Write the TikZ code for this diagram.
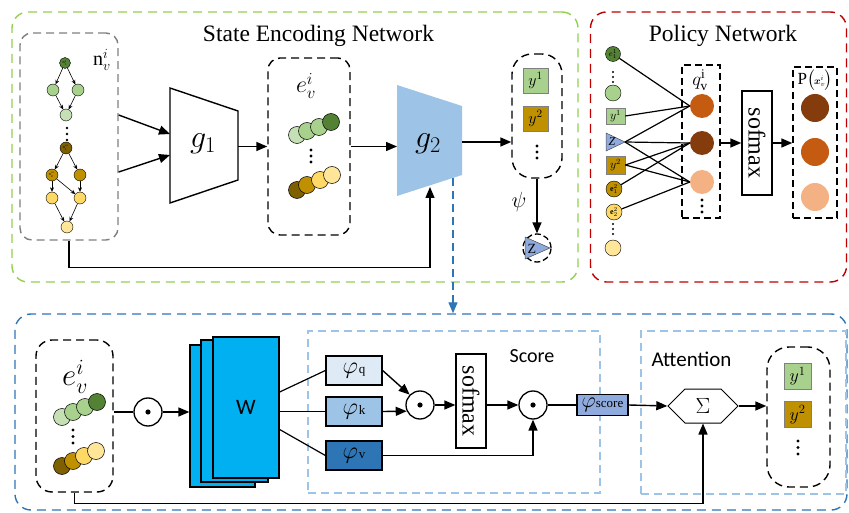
\RequirePackage{fix-cm}
\documentclass[tikz,border=0pt]{standalone}
\usepackage{amsmath}
\usepackage{fontspec}
\setmainfont{Liberation Serif}
\newfontfamily\carlito{Carlito}
\usetikzlibrary{arrows.meta,shapes.geometric,shapes.symbols,calc}

\definecolor{cGreenBox}{HTML}{92D050}
\definecolor{cRedBox}{HTML}{C00000}
\definecolor{cBlueBox}{HTML}{2E75B6}
\definecolor{cLBlue}{HTML}{9DC3E6}
\definecolor{cGray}{HTML}{7F7F7F}
\definecolor{cGa}{HTML}{C5E0B4}
\definecolor{cGb}{HTML}{A9D18E}
\definecolor{cGc}{HTML}{548235}
\definecolor{cBa}{HTML}{7F6000}
\definecolor{cBb}{HTML}{BF9000}
\definecolor{cYa}{HTML}{FFD966}
\definecolor{cYb}{HTML}{FFE699}
\definecolor{cZ}{HTML}{8FAADC}
\definecolor{cOr}{HTML}{C55A11}
\definecolor{cBr}{HTML}{843C0C}
\definecolor{cPe}{HTML}{F4B183}
\definecolor{cW}{HTML}{00B0F0}
\definecolor{cPq}{HTML}{DEEBF7}
\definecolor{cPv}{HTML}{2E75B6}

\begin{document}
\begin{tikzpicture}[x=1pt,y=-1pt,
  arr/.style={-{Triangle[length=11pt,width=9pt]},line width=1.4pt},
  sarr/.style={-{Stealth[length=4.5pt,width=4pt]},line width=0.6pt},
  bigbox/.style={draw,dash pattern=on 9pt off 6pt,line width=1.4pt,rounded corners=16pt,inner sep=0pt},
  dbox/.style={draw,dash pattern=on 8pt off 5pt,line width=1.4pt,rounded corners=12pt,inner sep=0pt},
  lbbox/.style={draw=cLBlue,dash pattern=on 8pt off 5pt,line width=1.2pt,inner sep=0pt},
  gn/.style={circle,draw,line width=0.4pt,inner sep=0pt,minimum size=12pt,font=\fontsize{4.2}{4.5}\selectfont},
  emb/.style={circle,draw,line width=0.5pt,inner sep=0pt,minimum size=17pt},
  ybx/.style={draw=gray,line width=0.6pt,minimum width=25pt,minimum height=25pt,inner sep=0pt,font=\fontsize{16}{16}\selectfont},
  odot/.style={circle,draw,line width=1.3pt,minimum size=28pt,inner sep=0pt},
  phibox/.style={draw,line width=1.3pt,minimum width=56pt,minimum height=29pt,inner sep=0pt},
  pline/.style={line width=1.2pt},
  pcirc/.style={circle,draw,line width=0.4pt,inner sep=0pt,minimum size=16pt,font=\fontsize{8}{8}\selectfont},
  qcirc/.style={circle,inner sep=0pt,minimum size=24pt},
  titl/.style={font=\fontsize{23.5}{24}\selectfont}
]
\useasboundingbox (0,0) rectangle (849,513);

% ---------- big frames ----------
\node[bigbox,draw=cGreenBox,minimum width=566pt,minimum height=270pt] (senc) at (295,147) {};
\node[bigbox,draw=cRedBox,minimum width=256pt,minimum height=270pt] (pol) at (718.5,147) {};
\node[bigbox,draw=cBlueBox,minimum width=832pt,minimum height=196pt] (att) at (431,412) {};
\node[titl] (t1) at (318.5,36) {State Encoding Network};
\node[titl] (t2) at (723,36) {Policy Network};

% ---------- n box with graph ----------
\node[dbox,draw=cGray,minimum width=98pt,minimum height=207pt] (nbox) at (69,136.5) {};
\node[font=\fontsize{20}{20}\selectfont] (nlab) at (102,60) {$\mathrm{n}_v^i$};
\node[gn,fill=cGc,minimum size=11pt] (a1) at (65,63) {$\mathrm{n}_1^1$};
\node[gn,fill=cGb] (a2) at (53,90) {};
\node[gn,fill=cGb] (a3) at (78,90) {};
\node[gn,fill=cGa] (a4) at (66,115) {};
\foreach \yy in {128,134,140} \fill (67,\yy) circle (1.4pt);
\node[gn,fill=cBa] (b1) at (66,148) {$\mathrm{n}_1^m$};
\node[gn,fill=cBb] (b2) at (52,175) {$\mathrm{n}_2^m$};
\node[gn,fill=cBb] (b3) at (80,175) {};
\node[gn,fill=cYa] (b4) at (52,198) {};
\node[gn,fill=cYa] (b5) at (80,198) {};
\node[gn,fill=cYb] (b6) at (67,227) {};
\draw[sarr] (a1) -- (a2); \draw[sarr] (a1) -- (a3);
\draw[sarr] (a2) -- (a4); \draw[sarr] (a3) -- (a4);
\draw[sarr] (b1) -- (b2); \draw[sarr] (b1) -- (b3);
\draw[sarr] (b2) -- (b4); \draw[sarr] (b2) -- (b5); \draw[sarr] (b3) -- (b5);
\draw[sarr] (b4) -- (b6); \draw[sarr] (b5) -- (b6);

% ---------- g1 ----------
\draw[line width=1.4pt,fill=white] (170,88) -- (238,111) -- (238,180) -- (170,203) -- cycle;
\node[font=\fontsize{32}{32}\selectfont] (g1) at (203,144) {$g_1$};
\coordinate (g1i1) at (170,134);
\coordinate (g1i2) at (170,155);
\coordinate (g1o) at (238,146.5);
\draw[arr] ([yshift=21.5pt]nbox.east) -- (g1i1);
\draw[arr] ([yshift=-35.5pt]nbox.east) -- (g1i2);

% ---------- e box ----------
\node[dbox,minimum width=82pt,minimum height=177pt] (ebox) at (309,146.5) {};
\node[font=\fontsize{24}{24}\selectfont] (elab) at (306,86) {$e_v^i$};
\node[emb,fill=cGa] (e1) at (297,135) {};
\node[emb,fill=cGb] (e2) at (307,131) {};
\node[emb,fill=cGb] (e3) at (319,127) {};
\node[emb,fill=cGc] (e4) at (331,122) {};
\foreach \yy in {150,156,162} \fill (311,\yy) circle (1.6pt);
\node[emb,fill=cBa] (e5) at (297,190) {};
\node[emb,fill=cBb] (e6) at (307,185) {};
\node[emb,fill=cYa] (e7) at (320,180) {};
\node[emb,fill=cYb] (e8) at (332,175) {};
\draw[arr] (g1o) -- (ebox.west);

% ---------- g2 ----------
\fill[cLBlue] (397,85) -- (462,106) -- (462,175) -- (397,196) -- cycle;
\node[font=\fontsize{32}{32}\selectfont] (g2) at (428,144) {$g_2$};
\coordinate (g2i) at (397,146.5);
\coordinate (g2o) at (462,142);
\coordinate (g2b) at (430,187);
\coordinate (g2d) at (453,178);
\draw[arr] (ebox.east) -- (g2i);
\draw[arr] (nbox.south) -- ++(0,27) -| (g2b);

% ---------- y box and Z ----------
\node[dbox,minimum width=50pt,minimum height=124pt,rounded corners=20pt] (ybox) at (537,116) {};
\node[ybx,fill=cGb] (y1) at (535.5,80.5) {$y^1$};
\node[ybx,fill=cBb] (y2) at (535.5,118.5) {$y^2$};
\foreach \yy in {146,152,158} \fill (537,\yy) circle (1.6pt);
\draw[arr] (g2o) -- (g2o -| ybox.west);
\node[circle,draw,dash pattern=on 6pt off 3pt,line width=1.3pt,minimum size=28pt,inner sep=0pt] (zc) at (537,248) {};
\filldraw[fill=cZ,draw=black!70,line width=0.5pt] (525,237) -- (550,248) -- (525,259) -- cycle;
\node[font=\fontsize{14}{14}\selectfont] (zl) at (532,249) {Z};
\draw[arr] (ybox.south) -- (ybox.south |- zc.north);
\node[font=\fontsize{22}{22}\selectfont] (psi) at (519,202) {$\psi$};

\draw[cBlueBox,line width=1.2pt,dash pattern=on 8pt off 5pt,-{Triangle[length=11pt,width=9pt]}] (g2d) -- (g2d |- att.north);

% ---------- policy network ----------
\node[draw,dash pattern=on 7pt off 4pt,line width=1.4pt,minimum width=38pt,minimum height=153pt,inner sep=0pt] (qbox) at (701,141.5) {};
\node[font=\fontsize{19}{19}\selectfont] (ql) at (700,80) {$q_{\mathrm{v}}^{\mathrm{i}}$};
\node[qcirc,fill=cOr] (qo) at (702,106) {};
\node[qcirc,fill=cBr] (qb) at (702,143) {};
\node[qcirc,fill=cPe] (qp) at (702,182) {};
\foreach \yy in {200,206,212} \fill (702,\yy) circle (1.6pt);

\node[draw,line width=1.4pt,minimum width=30pt,minimum height=104pt,inner sep=0pt] (sm) at (757,143) {};
\node[rotate=-90,font=\fontsize{24}{24}\selectfont] (smt) at (sm) {sofmax};
\draw[arr] (qbox.east |- sm.west) -- (sm.west);

\node[draw,dash pattern=on 7pt off 4pt,line width=1.4pt,minimum width=44pt,minimum height=151pt,inner sep=0pt] (pbox) at (815,142.5) {};
\node[font=\fontsize{17}{17}\selectfont,inner sep=0pt] (pl) at (815,80) {P$\bigl($\kern-1pt{\fontsize{10}{10}\selectfont$\boldsymbol{x}_v^i$}\kern-1pt$\bigr)$};
\node[circle,inner sep=0pt,minimum size=28pt,fill=cBr] (po1) at (815,108) {};
\node[circle,inner sep=0pt,minimum size=28pt,fill=cOr] (po2) at (815,152) {};
\node[circle,inner sep=0pt,minimum size=28pt,fill=cPe] (po3) at (815,197) {};
\draw[arr] (sm.east) -- (sm.east -| pbox.west);

\node[pcirc,fill=cGc,minimum size=15pt] (pe11) at (613,54) {$e_1^1$};
\foreach \yy in {72,77,82} \fill (613,\yy) circle (1.1pt);
\node[pcirc,fill=cGb] (pg) at (613,93) {};
\node[draw=gray,line width=0.6pt,fill=cGb,minimum width=19pt,minimum height=16pt,inner sep=0pt,font=\fontsize{12}{12}\selectfont] (py1) at (615.5,116) {$y^1$};
\filldraw[fill=cZ,draw=black!70,line width=0.5pt] (606,133) -- (625,142) -- (606,151) -- cycle;
\node[font=\fontsize{12}{12}\selectfont] (pzl) at (612,142) {\textit{Z}};
\coordinate (pz) at (625,142);
\node[draw=gray,line width=0.6pt,fill=cBb,minimum width=19pt,minimum height=18pt,inner sep=0pt,font=\fontsize{12}{12}\selectfont] (py2) at (615.5,165) {$y^2$};
\node[pcirc,fill=cBb] (pe12) at (614,189) {$\mathbf{e}_1^2$};
\node[pcirc,fill=cYa] (pe22) at (614,212) {$\mathbf{e}_2^2$};
\foreach \yy in {224,229,234} \fill (613,\yy) circle (1.1pt);
\node[pcirc,fill=cYb] (pyl) at (613,248) {};

\draw[pline] (pe11) -- (qo.west);
\draw[pline] (py1.east) -- (qo.west);
\draw[pline] (pz) -- (qo.west);
\draw[pline] (pz) -- (qb.west);
\draw[pline] (pz) -- (qp.west);
\draw[pline] (py2.east) -- (qb.west);
\draw[pline] (py2.east) -- (qp.west);
\draw[pline] (pe12) -- (qb.west);
\draw[pline] (pe22) -- (qp.west);

% ---------- bottom: attention module ----------
\node[dbox,minimum width=77pt,minimum height=152pt,rounded corners=16pt] (bebox) at (74.5,416) {};
\node[font=\fontsize{31}{31}\selectfont] (belab) at (75,377) {$e_v^i$};
\node[emb,fill=cGa] (f1) at (62,417) {};
\node[emb,fill=cGb] (f2) at (73,412) {};
\node[emb,fill=cGb] (f3) at (85,407) {};
\node[emb,fill=cGc] (f4) at (97,402) {};
\foreach \yy in {430,436.5,443} \fill (73,\yy) circle (1.6pt);
\node[emb,fill=cBa] (f5) at (62,466) {};
\node[emb,fill=cBb] (f6) at (73,461) {};
\node[emb,fill=cYa] (f7) at (84,456) {};
\node[emb,fill=cYb] (f8) at (96,451) {};

\node[odot] (od0) at (148,412) {};
\fill (od0.center) circle (2.6pt);
\draw[pline] (bebox.east |- od0.west) -- (od0.west);

\node[draw,fill=cW,line width=1.3pt,minimum width=65pt,minimum height=142pt,inner sep=0pt] (wb) at (222.5,416) {};
\node[draw,fill=cW,line width=1.3pt,minimum width=67pt,minimum height=142pt,inner sep=0pt] (wm) at (234.5,411) {};
\node[draw,fill=cW,line width=1.3pt,minimum width=66pt,minimum height=141pt,inner sep=0pt,font=\carlito\fontsize{22}{22}\selectfont] (wf) at (246,407.5) {W};
\draw[arr] (od0.east) -- (wb.west |- od0.east);

\node[lbbox,minimum width=292pt,minimum height=162pt] (scbox) at (454,412) {};
\node[font=\carlito\fontsize{20}{20}\selectfont] (sclab) at (532,356) {Score};
\node[phibox,fill=cPq] (pq) at (354,370.5) {{\fontsize{24}{24}\selectfont$\varphi$}\kern1pt{\fontsize{13}{13}\selectfont q}};
\node[phibox,fill=cLBlue] (pk) at (354,411.5) {{\fontsize{24}{24}\selectfont$\varphi$}\kern1pt{\fontsize{13}{13}\selectfont k}};
\node[phibox,fill=cPv] (pv) at (354,455.5) {{\fontsize{24}{24}\selectfont$\varphi$}\kern1pt{\fontsize{13}{13}\selectfont v}};
\draw[pline] ([yshift=15.5pt]wf.east) -- (pq.west);
\draw[pline] (wf.east |- pk.west) -- (pk.west);
\draw[pline] ([yshift=-22pt]wf.east) -- (pv.west);

\node[odot] (od1) at (420,405) {};
\fill (od1.center) circle (2.6pt);
\draw[arr] (pq.east) -- (od1.135);
\draw[arr] (pk.east) -- (od1.205);

\node[draw,line width=1.3pt,minimum width=30pt,minimum height=94pt,inner sep=0pt] (sm2) at (471,401) {};
\node[rotate=-90,font=\fontsize{24}{24}\selectfont] (sm2t) at (sm2) {sofmax};
\draw[arr] (od1.east) -- (od1.east -| sm2.west);

\node[odot] (od2) at (533,405) {};
\fill (od2.center) circle (2.6pt);
\draw[arr] (sm2.east |- od2.west) -- (od2.west);
\draw[arr] (pv.east) -| (od2.south);

\node[phibox,fill=cZ,minimum width=51pt,minimum height=21pt] (psc) at (602.5,405) {{\fontsize{22}{22}\selectfont$\varphi$}{\fontsize{13}{13}\selectfont score}};
\draw[pline] (od2.east) -- (psc.west);

\node[lbbox,minimum width=205pt,minimum height=163pt] (atbox) at (743.5,412.5) {};
\node[font=\carlito\fontsize{21}{21}\selectfont] (atlab) at (691.5,359) {Attention};
\node[signal,signal to=east and west,draw,line width=1pt,minimum width=70pt,minimum height=34pt,inner sep=0pt,font=\fontsize{22}{22}\selectfont] (sig) at (703,406) {$\Sigma$};
\draw[arr] (psc.east) -- (sig.west);

\node[dbox,minimum width=63pt,minimum height=140pt,rounded corners=22pt] (bybox) at (798.5,417) {};
\node[ybx,fill=cGb,minimum width=27pt,minimum height=26pt,font=\fontsize{18}{18}\selectfont] (by1) at (797.5,376) {$y^1$};
\node[ybx,fill=cBb,minimum width=27pt,minimum height=26pt,font=\fontsize{18}{18}\selectfont] (by2) at (797.5,414.5) {$y^2$};
\foreach \yy in {441,447.5,454} \fill (798,\yy) circle (1.6pt);
\draw[arr] (sig.east) -- (sig.east -| bybox.west);
\draw[arr] (bebox.south) -- ++(0,11) -| (sig.south);
\end{tikzpicture}
\end{document}
